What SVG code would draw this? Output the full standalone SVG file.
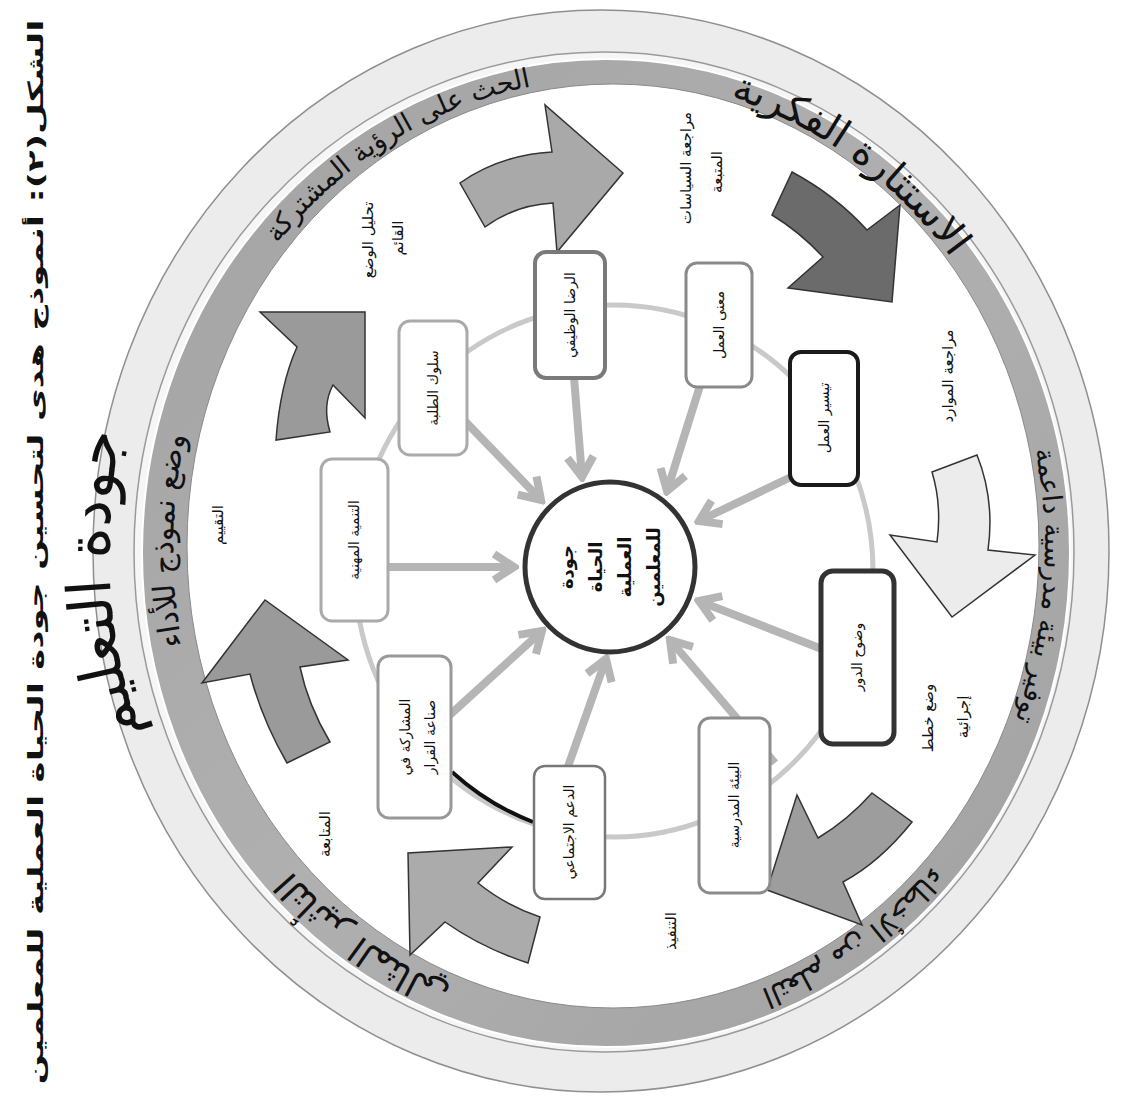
<svg xmlns="http://www.w3.org/2000/svg" width="1122" height="1100" viewBox="0 0 1122 1100">
<defs>
<style>
text{font-family:"DejaVu Sans","Noto Sans",sans-serif;fill:#111}
.lbl{font-size:15px;text-anchor:middle}
.btxt{font-size:14px;text-anchor:middle}
.ctxt{font-size:18px;font-weight:bold;text-anchor:middle}
.ring{text-anchor:middle}
.conn line{stroke:#b5b5b5;stroke-width:8;marker-end:url(#ah)}
.bx{fill:#fff}
.barrow{stroke:#333;stroke-width:1.5;stroke-linejoin:miter}
</style>
<marker id="ah" markerUnits="userSpaceOnUse" markerWidth="34" markerHeight="34" viewBox="0 0 34 34" refX="29" refY="17" orient="auto">
<path d="M9,4 L29,17 L9,30" fill="none" stroke="#b5b5b5" stroke-width="8"/>
</marker>
<linearGradient id="band" x1="0" y1="0" x2="1" y2="1">
<stop offset="0" stop-color="#a2a2a2"/>
<stop offset="0.5" stop-color="#b0b0b0"/>
<stop offset="1" stop-color="#a0a0a0"/>
</linearGradient>
<path id="tp" d="M609,1019 A436,470 0 0 1 609,79 A436,470 0 0 1 609,1019" fill="none"/>
<path id="tpBig" d="M603,1072 A494,522 0 0 1 603,28 A494,522 0 0 1 603,1072" fill="none"/>
</defs>
<rect width="1122" height="1100" fill="#fff"/>

<g id="ring">
<ellipse cx="601" cy="551" rx="508" ry="541" fill="#ececec" stroke="#8f8f8f" stroke-width="1.5"/>
<ellipse cx="604" cy="552" rx="470" ry="500" fill="#f6f6f6" stroke="#9a9a9a" stroke-width="1.5"/>
<ellipse cx="606" cy="553" rx="464" ry="494" fill="url(#band)" stroke="#ffffff" stroke-width="2"/>
<ellipse cx="613" cy="546" rx="426" ry="462" fill="#ffffff" stroke="#8a8a8a" stroke-width="1"/>
</g>

<g id="ring-text">
<text class="ring" font-size="60"><textPath href="#tpBig" startOffset="23.9%">جودة التعليم</textPath></text>
<text class="ring" font-size="36"><textPath href="#tp" startOffset="9.2%">التأثير المثالي</textPath></text>
<text class="ring" font-size="30"><textPath href="#tp" startOffset="25.3%">وضع نموذج للأداء</textPath></text>
<text class="ring" font-size="27"><textPath href="#tp" startOffset="41.9%">الحث على الرؤية المشتركة</textPath></text>
<text class="ring" font-size="40"><textPath href="#tp" startOffset="59.2%">الاستثارة الفكرية</textPath></text>
<text class="ring" font-size="27"><textPath href="#tp" startOffset="76.3%">توفير بيئة مدرسية داعمة</textPath></text>
<text class="ring" font-size="29"><textPath href="#tp" startOffset="90.8%">التعلم من الأخطاء</textPath></text>
</g>

<g id="cycle-arrows">
<path class="barrow" fill="#9a9a9a" d="M276,440 Q280,385 297,347 L260,312 L365,312 L365,418 L333,385 Q322,405 330,432 Z"/>
<path class="barrow" fill="#a9a9a9" d="M460,183 Q500,155 552,152 L545,105 L623,173 L557,252 L553,203 Q515,205 485,227 Z"/>
<path class="barrow" fill="#6b6b6b" d="M792,172 Q835,195 867,230 L900,205 L892,302 L788,288 L823,257 Q800,232 772,215 Z"/>
<path class="barrow" fill="#ececec" d="M932,472 L977,455 Q995,500 988,550 L1035,555 L952,617 L890,535 L937,542 Q942,505 932,472 Z"/>
<path class="barrow" fill="#9d9d9d" d="M872,793 L912,822 Q880,862 843,882 L862,925 L767,890 L797,795 L818,838 Q848,820 872,793 Z"/>
<path class="barrow" fill="#ababab" d="M540,917 L528,963 Q482,948 445,922 L410,955 L408,853 L512,847 L478,883 Q505,905 540,917 Z"/>
<path class="barrow" fill="#9a9a9a" d="M287,763 Q262,720 250,674 L202,683 L265,600 L348,660 L300,667 Q308,705 330,742 Z"/>
</g>

<g id="stage-labels">
<g transform="translate(368,240) rotate(-90)"><text class="lbl" y="5">تحليل الوضع</text></g>
<g transform="translate(398,238) rotate(-90)"><text class="lbl" y="5">القائم</text></g>
<g transform="translate(686,168) rotate(-90)"><text class="lbl" y="5">مراجعة السياسات</text></g>
<g transform="translate(717,172) rotate(-90)"><text class="lbl" y="5">المتبعة</text></g>
<g transform="translate(948,376) rotate(-90)"><text class="lbl" y="5">مراجعة الموارد</text></g>
<g transform="translate(928,718) rotate(-90)"><text class="lbl" y="5">وضع خطط</text></g>
<g transform="translate(963,717) rotate(-90)"><text class="lbl" y="5">إجرائية</text></g>
<g transform="translate(671,931) rotate(-90)"><text class="lbl" y="5">التنفيذ</text></g>
<g transform="translate(325,834) rotate(-90)"><text class="lbl" y="5">المتابعة</text></g>
<g transform="translate(218,525) rotate(-90)"><text class="lbl" y="5">التقييم</text></g>
</g>

<g id="inner-ring">
<ellipse cx="614" cy="571" rx="259" ry="266" fill="none" stroke="#c9c9c9" stroke-width="5"/>
<path d="M452,772 A259,266 0 0 0 533,822" fill="none" stroke="#111" stroke-width="4"/>
</g>

<g id="connectors" class="conn">
<line x1="354" y1="567" x2="514" y2="567"/>
<line x1="433" y1="388" x2="541" y2="500"/>
<line x1="569" y1="315" x2="582" y2="477"/>
<line x1="719" y1="325" x2="667" y2="491"/>
<line x1="810" y1="468" x2="699" y2="521"/>
<line x1="850" y1="660" x2="699" y2="601"/>
<line x1="775" y1="763" x2="670" y2="640"/>
<line x1="565" y1="775" x2="606" y2="659"/>
<line x1="430" y1="733" x2="542" y2="631"/>
</g>

<g id="node-center">
<circle cx="610" cy="567" r="85" fill="#fff" stroke="#333" stroke-width="5"/>
<g transform="translate(610,567) rotate(-90)">
<text class="ctxt" y="-37">جودة</text>
<text class="ctxt" y="-8">الحياة</text>
<text class="ctxt" y="21">العملية</text>
<text class="ctxt" y="50">للمعلمين</text>
</g>
</g>

<g id="node-rida">
<rect class="bx" x="535" y="252" width="70" height="126" rx="11" stroke="#7a7a7a" stroke-width="4"/>
<g transform="translate(570,315) rotate(-90)"><text class="btxt" y="5">الرضا الوظيفي</text></g>
</g>
<g id="node-maana">
<rect class="bx" x="686" y="263" width="66" height="124" rx="11" stroke="#8a8a8a" stroke-width="3"/>
<g transform="translate(719,325) rotate(-90)"><text class="btxt" y="5">معنى العمل</text></g>
</g>
<g id="node-taysir">
<rect class="bx" x="790" y="352" width="68" height="133" rx="11" stroke="#1a1a1a" stroke-width="4"/>
<g transform="translate(824,418) rotate(-90)"><text class="btxt" y="5">تيسير العمل</text></g>
</g>
<g id="node-wudoh">
<rect class="bx" x="821" y="571" width="73" height="173" rx="12" stroke="#333" stroke-width="5"/>
<g transform="translate(857,657) rotate(-90)"><text class="btxt" y="5">وضوح الدور</text></g>
</g>
<g id="node-biaa">
<rect class="bx" x="699" y="718" width="71" height="175" rx="11" stroke="#8c8c8c" stroke-width="3"/>
<g transform="translate(734,805) rotate(-90)"><text class="btxt" y="5">البيئة المدرسية</text></g>
</g>
<g id="node-daam">
<rect class="bx" x="534" y="766" width="71" height="133" rx="11" stroke="#777" stroke-width="2.5"/>
<g transform="translate(569,832) rotate(-90)"><text class="btxt" y="5">الدعم الاجتماعي</text></g>
</g>
<g id="node-musharaka">
<rect class="bx" x="378" y="656" width="73" height="162" rx="11" stroke="#999" stroke-width="3"/>
<g transform="translate(414,737) rotate(-90)"><text class="btxt" y="-4">المشاركة في</text><text class="btxt" y="21">صناعة القرار</text></g>
</g>
<g id="node-tanmia">
<rect class="bx" x="321" y="459" width="67" height="162" rx="11" stroke="#aaa" stroke-width="3"/>
<g transform="translate(354,540) rotate(-90)"><text class="btxt" y="5">التنمية المهنية</text></g>
</g>
<g id="node-suluk">
<rect class="bx" x="399" y="321" width="68" height="134" rx="11" stroke="#aaa" stroke-width="3"/>
<g transform="translate(433,388) rotate(-90)"><text class="btxt" y="5">سلوك الطلبة</text></g>
</g>

<g id="caption" transform="translate(43,552) rotate(-90)">
<text font-size="21" font-weight="bold" text-anchor="middle" y="0" textLength="1065" lengthAdjust="spacingAndGlyphs">الشكل(٢): أنموذج هدى لتحسين جودة الحياة العملية للمعلمين</text>
</g>
</svg>
